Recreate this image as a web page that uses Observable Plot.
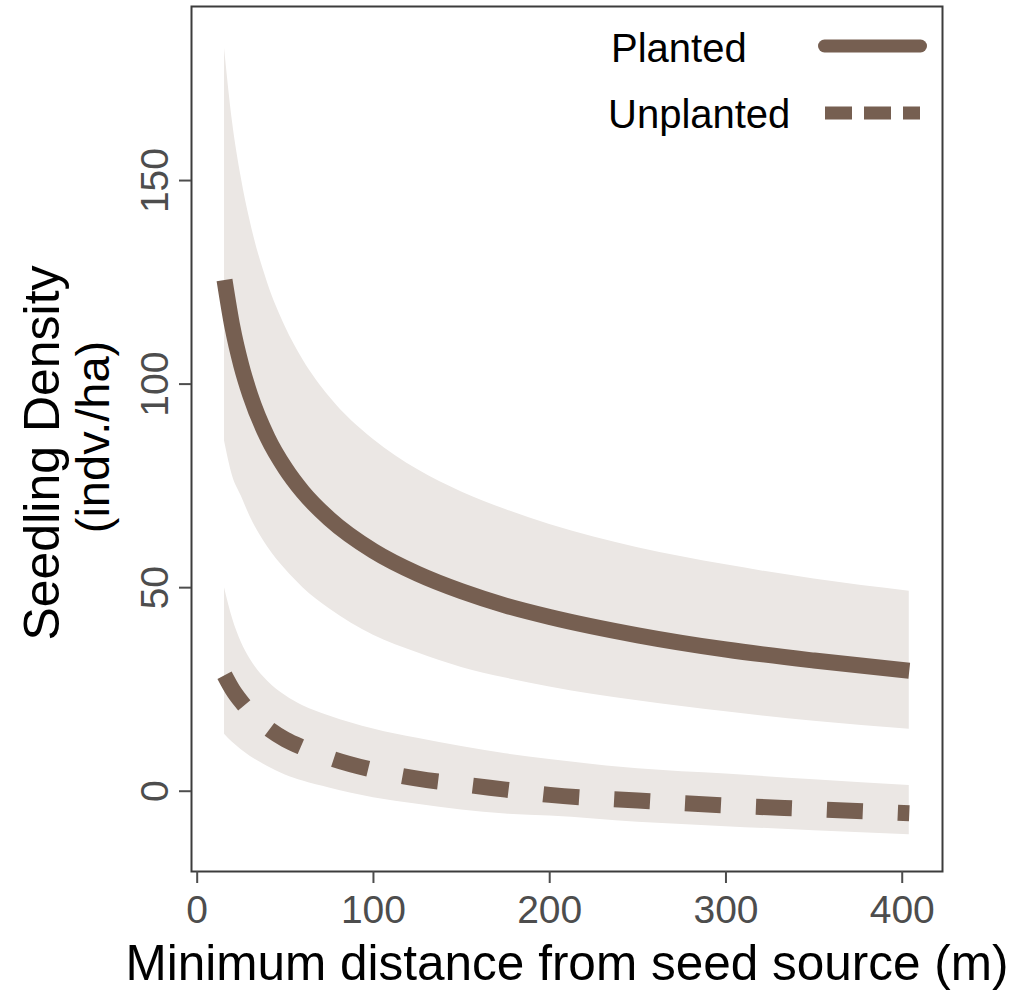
<!DOCTYPE html>
<html>
<head>
<meta charset="utf-8">
<script src="https://cdn.jsdelivr.net/npm/d3@7"></script>
<script src="https://cdn.jsdelivr.net/npm/@observablehq/plot@0.6"></script>
<style>
  body { margin: 0; background: #fff; }
  #chart { width: 1014px; height: 990px; }
</style>
</head>
<body>
<div id="chart"></div>
<script>
// ---- data ----
const distance      = [15.5, 20, 25, 30, 40, 50, 60, 75, 100, 125, 150, 175, 200, 250, 300, 350, 404];
const plantedMean   = [125.6, 114, 104.6, 97.4, 86.8, 79.3, 73.5, 66.9, 59, 53.4, 49.1, 45.6, 42.8, 38.3, 34.8, 32.1, 29.6];
const plantedUpper  = [182.5, 164.5, 150.7, 140.1, 124.8, 114.1, 106, 96.9, 86.4, 79, 73.5, 69.2, 65.5, 59.8, 55.6, 52.1, 49.1];
const plantedLower  = [86, 77.5, 72.5, 67.5, 60, 54.5, 50, 44.8, 38.3, 34, 30.4, 27.8, 25.6, 22.2, 19.5, 17.2, 15.2];
const unplantedMean = [28.5, 25, 22, 19.5, 15.5, 12.7, 10.7, 8.2, 5.2, 3.1, 1.7, 0.4, -0.9, -2.3, -3.5, -4.4, -5.4];
const unplantedUpper= [50, 42.5, 36.6, 32.5, 27, 23.5, 21, 18.5, 15.3, 13, 11, 9.2, 7.8, 5.5, 4.2, 2.8, 1.4];
const unplantedLower= [14, 12, 10.2, 8.6, 6.1, 4, 2.5, 0.8, -1.6, -3.2, -4.6, -5.6, -6.1, -7.6, -8.7, -9.7, -10.7];

const xTicks = [0, 100, 200, 300, 400];
const yTicks = [0, 50, 100, 150];
const seriesNames = ["Planted", "Unplanted"];
const xTitle = "Minimum distance from seed source (m)";
const yTitle1 = "Seedling Density";
const yTitle2 = "(indv./ha)";

// ---- styles ----
const lineColor = "#765f51";
const bandColor = "#ebe7e4";
const axisColor = "#3c3c3c";
const tickLabelColor = "#4d4d4d";
const font = "'Liberation Sans', Arial, Helvetica, sans-serif";

const rows = distance.map((d, i) => ({
  distance: d,
  pMean: plantedMean[i], pUp: plantedUpper[i], pLo: plantedLower[i],
  uMean: unplantedMean[i], uUp: unplantedUpper[i], uLo: unplantedLower[i]
}));

const plot = Plot.plot({
  width: 1014,
  height: 990,
  marginLeft: 191,
  marginRight: 72,
  marginTop: 6,
  marginBottom: 119,
  style: { fontFamily: font, background: "white", overflow: "visible" },
  x: { domain: [-3.23, 422.85] },
  y: { domain: [-19.72, 192.75] },
  marks: [
    Plot.areaY(rows, { x: "distance", y1: "pLo", y2: "pUp", fill: bandColor, curve: "monotone-x" }),
    Plot.areaY(rows, { x: "distance", y1: "uLo", y2: "uUp", fill: bandColor, curve: "monotone-x" }),
    Plot.line(rows, { x: "distance", y: "pMean", stroke: lineColor, strokeWidth: 16, strokeLinecap: "butt", curve: "monotone-x" }),
    Plot.line(rows, { x: "distance", y: "uMean", stroke: lineColor, strokeWidth: 16, strokeLinecap: "butt", strokeDasharray: "36,35", curve: "monotone-x" }),
    Plot.frame({ stroke: axisColor, strokeWidth: 2 }),
    Plot.axisX({ ticks: xTicks, tickSize: 12, tickPadding: 12, fontSize: 39, color: tickLabelColor, strokeWidth: 2, label: null }),
    Plot.axisY({ ticks: yTicks, tickSize: 12, tickPadding: 12, tickRotate: -90, fontSize: 39, color: tickLabelColor, strokeWidth: 2, label: null }),
    Plot.text([xTitle], { text: d => d, frameAnchor: "bottom", textAnchor: "middle", lineAnchor: "bottom", dy: 108, fontSize: 49.5, fill: "black" }),
    Plot.text([yTitle1], { text: d => d, frameAnchor: "left", textAnchor: "middle", rotate: -90, lineAnchor: "bottom", dx: -133, dy: 14, fontSize: 50, fill: "black" }),
    Plot.text([yTitle2], { text: d => d, frameAnchor: "left", textAnchor: "middle", rotate: -90, lineAnchor: "bottom", dx: -83, dy: -2, fontSize: 47, fill: "black" })
  ]
});

document.getElementById("chart").appendChild(plot);

// ---- legend (top-right, inside the frame) ----
const svg = d3.select(plot);
const legend = svg.append("g").attr("font-family", font).attr("text-anchor", "start");
const legendItems = [
  { name: seriesNames[0], tx: 611, ty: 62, x1: 818, x2: 927, ly: 46, dash: null, cap: "round" },
  { name: seriesNames[1], tx: 608, ty: 128, x1: 825, x2: 920, ly: 113, dash: "27,12", cap: "butt" }
];
for (const it of legendItems) {
  legend.append("text")
    .attr("x", it.tx).attr("y", it.ty)
    .attr("text-anchor", "start")
    .attr("font-size", 40).attr("fill", "black")
    .text(it.name);
  const ln = legend.append("line")
    .attr("x1", it.x1 + (it.cap === "round" ? 6.5 : 0)).attr("x2", it.x2 - (it.cap === "round" ? 6.5 : 0))
    .attr("y1", it.ly).attr("y2", it.ly)
    .attr("stroke", lineColor).attr("stroke-width", 13)
    .attr("stroke-linecap", it.cap);
  if (it.dash) ln.attr("stroke-dasharray", it.dash);
}
</script>
</body>
</html>
